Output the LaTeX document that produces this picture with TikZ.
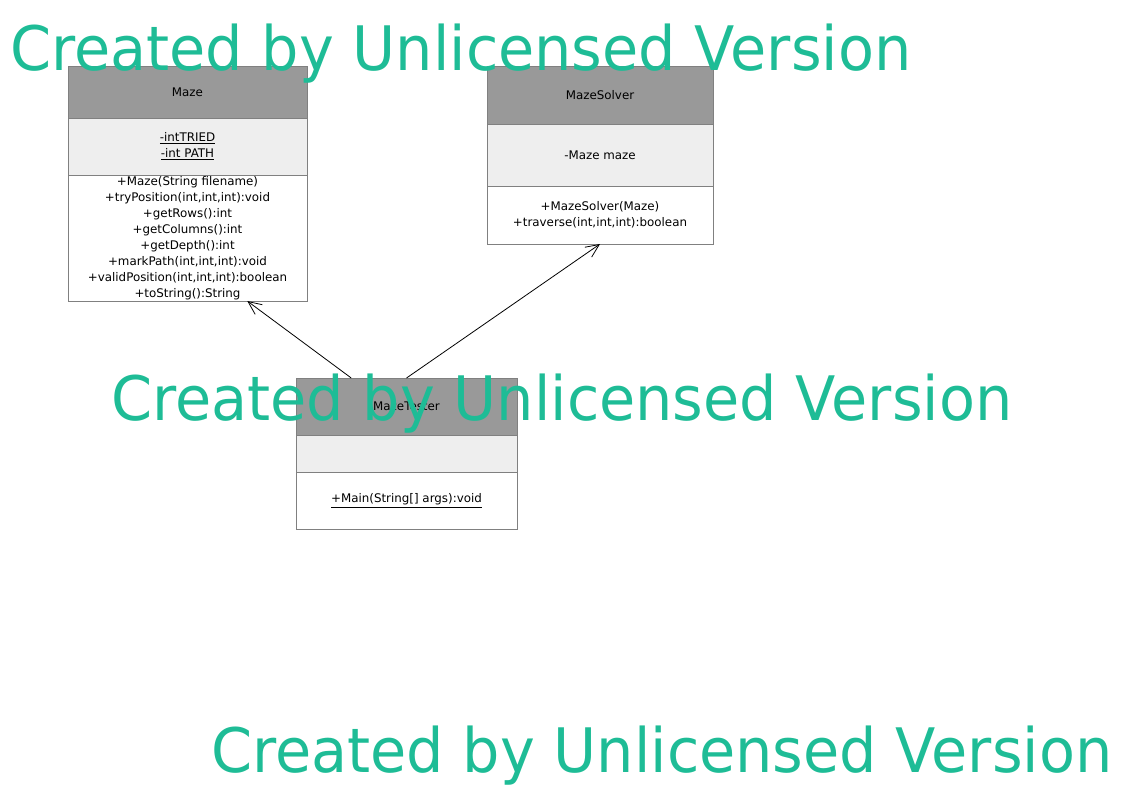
\documentclass[tikz,border=0pt]{standalone}
\usepackage{fontspec}
\setmainfont{DejaVu Sans}
\usepackage{tikz}
\usetikzlibrary{arrows.meta,positioning,calc}
\definecolor{umlborder}{RGB}{128,128,128}
\definecolor{umlhead}{RGB}{153,153,153}
\definecolor{umlattr}{RGB}{238,238,238}
\definecolor{wmgreen}{RGB}{30,188,150}
\tikzset{
    umlbox/.style   = {draw=umlborder, line width=0.6pt, rectangle, inner sep=0pt,
            outer sep=0pt, align=center, font=\fontsize{8.9}{12}\selectfont},
    classhead/.style = {umlbox, fill=umlhead},
    classattr/.style = {umlbox, fill=umlattr},
    classops/.style  = {umlbox, fill=white},
    assoc/.style     = {-{Straight Barb[length=10pt,width=9pt]}, line width=0.6pt, draw=black},
    watermark/.style = {text=wmgreen, inner sep=0pt, anchor=base west,
            font=\fontsize{46}{50}\selectfont},
}

\begin{document}
\begin{tikzpicture}[x=0.75pt,y=-0.75pt]
            \useasboundingbox (0,0) rectangle (1123,794);
            \begin{scope}
                % Maze
                \node[classhead, minimum width=179.25pt, minimum height=39pt, anchor=north west] (mazehead) at (68,66) {Maze};
                \node[classattr, minimum width=179.25pt, minimum height=42.75pt, below=0pt of mazehead] (mazeattr) {\underline{-intTRIED}\\ \underline{-int PATH}};
                \node[classops, minimum width=179.25pt, minimum height=94.5pt, below=0pt of mazeattr] (mazeops) {+Maze(String filename)\\ +tryPosition(int,int,int):void\\ +getRows():int\\ +getColumns():int\\ +getDepth():int\\ +markPath(int,int,int):void\\ +validPosition(int,int,int):boolean\\ +toString():String};

                % MazeSolver
                \node[classhead, minimum width=169.5pt, minimum height=43.5pt, anchor=north west] (solverhead) at (487,66) {MazeSolver};
                \node[classattr, minimum width=169.5pt, minimum height=46.5pt, below=0pt of solverhead] (solverattr) {-Maze maze};
                \node[classops, minimum width=169.5pt, minimum height=43.5pt, below=0pt of solverattr] (solverops) {+MazeSolver(Maze)\\ +traverse(int,int,int):boolean};

                % MazeTester
                \node[classhead, minimum width=165.75pt, minimum height=42.75pt, anchor=north west] (testerhead) at (296,378) {MazeTester};
                \node[classattr, minimum width=165.75pt, minimum height=27.75pt, below=0pt of testerhead] (testerattr) {};
                \node[classops, minimum width=165.75pt, minimum height=42.75pt, below=0pt of testerattr] (testerops) {\underline{+Main(String[] args):void}};

                % Arrows
                \draw[assoc] ($(testerhead.north west)!0.25!(testerhead.north east)$) -- ($(mazeops.south west)!0.75!(mazeops.south east)$);
                \draw[assoc] (testerhead.north) -- (solverops.south);

                % Watermarks
                \node[watermark] (wmtop) at (10,70) {\scalebox{0.96}[1]{Created by Unlicensed Version}};
                \node[watermark] (wmmid) at (111,420) {\scalebox{0.96}[1]{Created by Unlicensed Version}};
                \node[watermark] (wmbot) at (211,772) {\scalebox{0.96}[1]{Created by Unlicensed Version}};
            \end{scope}
        \end{tikzpicture}
\end{document}
